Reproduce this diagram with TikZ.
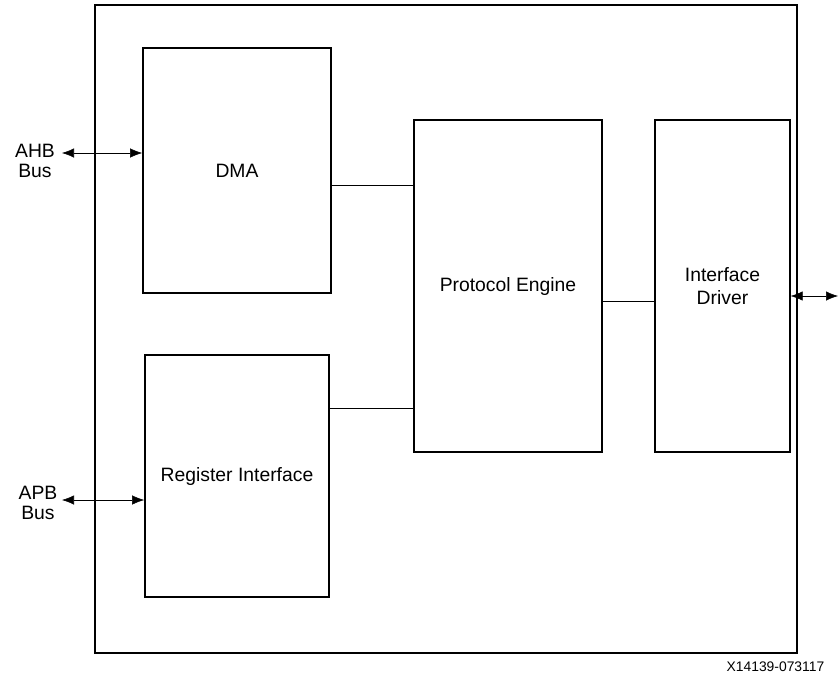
\documentclass[tikz,border=0pt]{standalone}
\usepackage{fontspec}
\setmainfont{Liberation Sans}
\usetikzlibrary{arrows.meta}
\tikzset{
  block/.style = {draw, line width=1.2pt, align=center, inner sep=0pt},
  bus/.style = {align=center, font=\fontsize{14.5}{15}\selectfont},
}
\begin{document}
\begin{tikzpicture}[> = {Latex[length = 9pt, width = 7pt]}, x = 0.75pt, y = -0.75pt, font = \fontsize{14.5}{17}\selectfont]

	\useasboundingbox (0, 0) rectangle (838, 682);

	% Outer frame
	
	\draw [line width = 1.2pt] (95, 5) rectangle (797, 653);
	
	% Blocks
	
	\node [block, minimum width = 141pt, minimum height = 184pt] (dma) at (237, 170.5) {DMA};
	\node [block, minimum width = 138pt, minimum height = 181.5pt] (reg) at (237, 476) {Register Interface};
	\node [block, minimum width = 141pt, minimum height = 249pt] (pe) at (508, 286) {Protocol Engine};
	\node [block, minimum width = 101pt, minimum height = 249pt] (drv) at (722.5, 286) {Interface\\Driver};
	
	% Internal links
	
	\draw (dma.east |- 0, 185) -- (pe.west |- 0, 185);
	\draw (reg.east |- 0, 408) -- (pe.west |- 0, 408);
	\draw (pe.east |- 0, 301) -- (drv.west |- 0, 301);
	
	% Bus ports
	
	\coordinate (ahb) at (62, 153);
	\coordinate (apb) at (62, 500);
	\coordinate (io) at (838, 296);
	
	\draw [<->] (ahb) -- (dma.west |- ahb);
	\draw [<->] (apb) -- (reg.west |- apb);
	\draw [<->] (drv.east |- io) -- (io);
	
	\node [bus] (ahblabel) at (35, 161) {AHB\\Bus};
	\node [bus] (apblabel) at (38, 503) {APB\\Bus};
	
	% Figure id
	
	\node [anchor = east, font = \fontsize{10.4}{12}\selectfont] (figid) at (829, 667) {X14139-073117};
	
\end{tikzpicture}
\end{document}
